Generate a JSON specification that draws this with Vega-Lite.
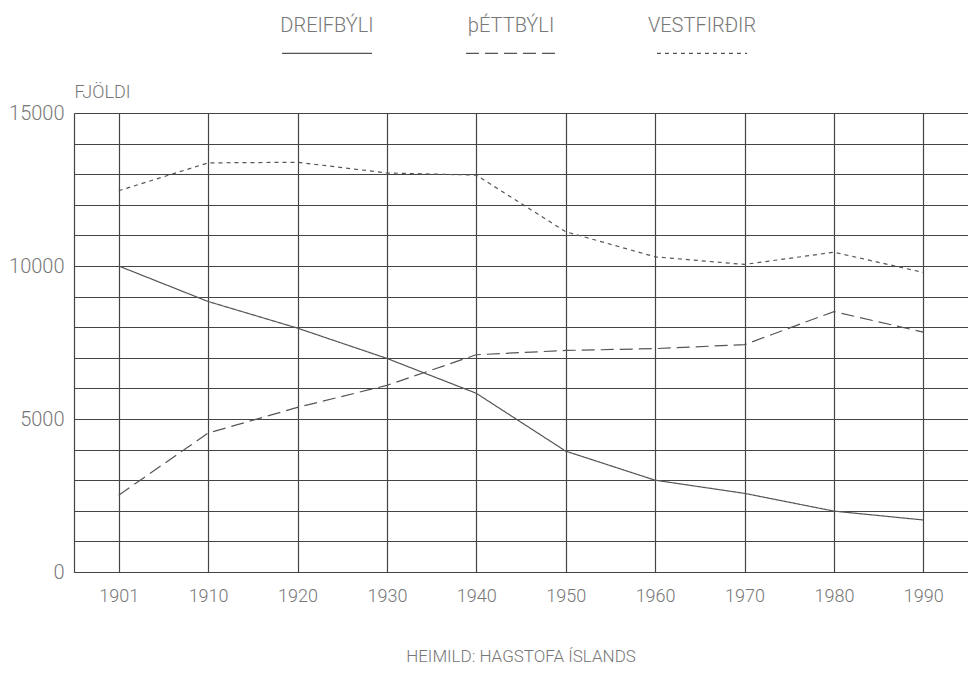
{
  "$schema": "https://vega.github.io/schema/vega-lite/v6.json",
  "width": 894,
  "height": 459,
  "autosize": {"type": "none"},
  "padding": {"left": 74, "top": 113, "right": 0, "bottom": 111},
  "background": "white",
  "config": {"view": {"stroke": null}, "font": "Roboto"},
  "title": {"text": "HEIMILD: HAGSTOFA ÍSLANDS", "orient": "bottom", "anchor": "middle", "font": "Roboto", "fontSize": 17, "fontWeight": 300, "color": "#777", "offset": 44},
  "data": {"values": [
    {"ar": "1901", "flokkur": "DREIFBÝLI", "fjoldi": 10000},
    {"ar": "1910", "flokkur": "DREIFBÝLI", "fjoldi": 8840},
    {"ar": "1920", "flokkur": "DREIFBÝLI", "fjoldi": 7970},
    {"ar": "1930", "flokkur": "DREIFBÝLI", "fjoldi": 6980},
    {"ar": "1940", "flokkur": "DREIFBÝLI", "fjoldi": 5840},
    {"ar": "1950", "flokkur": "DREIFBÝLI", "fjoldi": 3950},
    {"ar": "1960", "flokkur": "DREIFBÝLI", "fjoldi": 3000},
    {"ar": "1970", "flokkur": "DREIFBÝLI", "fjoldi": 2570},
    {"ar": "1980", "flokkur": "DREIFBÝLI", "fjoldi": 1990},
    {"ar": "1990", "flokkur": "DREIFBÝLI", "fjoldi": 1700},
    {"ar": "1901", "flokkur": "þÉTTBÝLI", "fjoldi": 2510},
    {"ar": "1910", "flokkur": "þÉTTBÝLI", "fjoldi": 4540},
    {"ar": "1920", "flokkur": "þÉTTBÝLI", "fjoldi": 5380},
    {"ar": "1930", "flokkur": "þÉTTBÝLI", "fjoldi": 6100},
    {"ar": "1940", "flokkur": "þÉTTBÝLI", "fjoldi": 7100},
    {"ar": "1950", "flokkur": "þÉTTBÝLI", "fjoldi": 7240},
    {"ar": "1960", "flokkur": "þÉTTBÝLI", "fjoldi": 7300},
    {"ar": "1970", "flokkur": "þÉTTBÝLI", "fjoldi": 7430},
    {"ar": "1980", "flokkur": "þÉTTBÝLI", "fjoldi": 8510},
    {"ar": "1990", "flokkur": "þÉTTBÝLI", "fjoldi": 7840},
    {"ar": "1901", "flokkur": "VESTFIRÐIR", "fjoldi": 12460},
    {"ar": "1910", "flokkur": "VESTFIRÐIR", "fjoldi": 13370},
    {"ar": "1920", "flokkur": "VESTFIRÐIR", "fjoldi": 13390},
    {"ar": "1930", "flokkur": "VESTFIRÐIR", "fjoldi": 13040},
    {"ar": "1940", "flokkur": "VESTFIRÐIR", "fjoldi": 12970},
    {"ar": "1950", "flokkur": "VESTFIRÐIR", "fjoldi": 11120},
    {"ar": "1960", "flokkur": "VESTFIRÐIR", "fjoldi": 10300},
    {"ar": "1970", "flokkur": "VESTFIRÐIR", "fjoldi": 10050},
    {"ar": "1980", "flokkur": "VESTFIRÐIR", "fjoldi": 10450},
    {"ar": "1990", "flokkur": "VESTFIRÐIR", "fjoldi": 9790}
  ]},
  "mark": {"type": "line", "color": "#555", "strokeWidth": 1.2},
  "encoding": {
    "x": {
      "field": "ar", "type": "ordinal",
      "scale": {"type": "point", "padding": 0.5},
      "axis": {"title": null, "labelAngle": 0, "grid": true, "gridColor": "#444", "gridWidth": 1.2, "ticks": false, "domain": true, "domainColor": "#444", "domainWidth": 1.2, "labelPadding": 15, "labelFont": "Roboto", "labelFontSize": 18, "labelFontWeight": 300, "labelColor": "#777"}
    },
    "y": {
      "field": "fjoldi", "type": "quantitative",
      "scale": {"domain": [0, 15000], "nice": false},
      "axis": {
        "values": [0, 1000, 2000, 3000, 4000, 5000, 6000, 7000, 8000, 9000, 10000, 11000, 12000, 13000, 14000, 15000],
        "format": "d",
        "labelExpr": "datum.value % 5000 === 0 ? datum.label : ''",
        "grid": true, "gridColor": "#444", "gridWidth": 1.2,
        "ticks": false, "domain": true, "domainColor": "#444", "domainWidth": 1.2,
        "labelPadding": 10, "labelFont": "Roboto", "labelFontSize": 20, "labelFontWeight": 300, "labelColor": "#777",
        "title": "FJÖLDI", "titleAngle": 0, "titleX": 0, "titleY": -12, "titleAlign": "left", "titleBaseline": "bottom",
        "titleFont": "Roboto", "titleFontSize": 18, "titleFontWeight": 300, "titleColor": "#777"
      }
    },
    "strokeDash": {
      "field": "flokkur", "type": "nominal",
      "scale": {"domain": ["DREIFBÝLI", "þÉTTBÝLI", "VESTFIRÐIR"], "range": [[1, 0], [13, 6], [4, 4]]},
      "legend": {
        "title": null, "orient": "none", "legendX": 207, "legendY": -106, "direction": "horizontal",
        "symbolType": "stroke", "symbolSize": 8100, "symbolStrokeWidth": 1.2, "symbolStrokeColor": "#555",
        "labelAlign": "center", "labelOffset": -46, "labelFont": "Roboto", "labelFontSize": 20, "labelFontWeight": 300, "labelColor": "#777",
        "columnPadding": 88, "padding": 0, "labelLimit": 0,
        "encoding": {"labels": {"dy": {"value": -27}}}
      }
    }
  }
}
